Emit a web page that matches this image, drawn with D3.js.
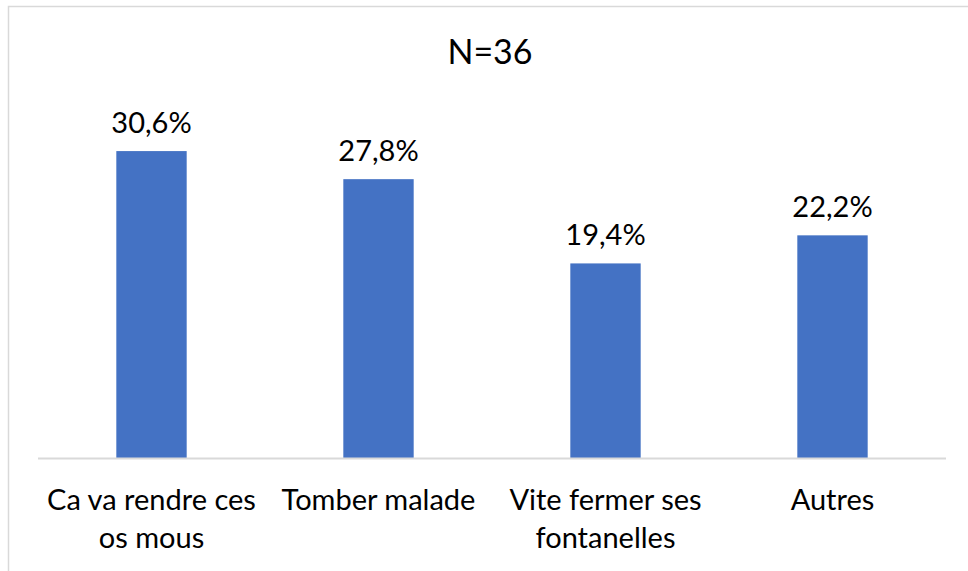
<!DOCTYPE html>
<meta charset="utf-8">
<html lang="fr">
<head>
    <script src="https://d3js.org/d3.v7.min.js"></script>
    <style>
        body { margin: 0; background: #fff; }
        text { font-family: Lato, "Open Sans", sans-serif; fill: #000; }
    </style>
</head>
<body>
    <svg width="968" height="571"></svg>
    <script>
        // data
        var categories = [["Ca va rendre ces", "os mous"], ["Tomber malade"], ["Vite fermer ses", "fontanelles"], ["Autres"]];
        var values = [30.6, 27.8, 19.4, 22.2];
        var valueLabels = ["30,6%", "27,8%", "19,4%", "22,2%"];
        var title = "N=36";

        var svg = d3.select("svg");

        // chart frame
        svg.append("rect")
            .attr("x", 8.5).attr("y", 6.5)
            .attr("width", 975).attr("height", 590)
            .attr("fill", "none")
            .attr("stroke", "#d9d9d9")
            .attr("stroke-width", 1.5);

        var left = 38, right = 946, base = 458;

        var x = d3.scaleBand()
            .domain(d3.range(values.length))
            .range([left, right])
            .paddingInner(0.69)
            .paddingOuter(0.345);

        var y = d3.scaleLinear()
            .domain([0, 35])
            .range([base, base - 35 * 10.03]);

        // title
        svg.append("text")
            .attr("x", 490).attr("y", 64)
            .attr("text-anchor", "middle")
            .style("font-size", "34px")
            .text(title);

        // bars
        svg.selectAll(".bar")
            .data(values)
            .enter().append("rect")
            .attr("class", "bar")
            .attr("x", function(d, i) { return x(i); })
            .attr("y", function(d) { return y(d); })
            .attr("width", x.bandwidth())
            .attr("height", function(d) { return base - y(d); })
            .attr("fill", "#4472c4");

        // value labels
        svg.selectAll(".val")
            .data(values)
            .enter().append("text")
            .attr("class", "val")
            .attr("x", function(d, i) { return x(i) + x.bandwidth() / 2; })
            .attr("y", function(d) { return y(d) - 18; })
            .attr("text-anchor", "middle")
            .style("font-size", "29px")
            .text(function(d, i) { return valueLabels[i]; });

        // axis line
        svg.append("line")
            .attr("x1", left).attr("x2", right)
            .attr("y1", base + 0.5).attr("y2", base + 0.5)
            .attr("stroke", "#d9d9d9")
            .attr("stroke-width", 2);

        // category labels
        svg.selectAll(".cat")
            .data(categories)
            .enter().append("text")
            .attr("class", "cat")
            .attr("text-anchor", "middle")
            .style("font-size", "29px")
            .each(function(lines, i) {
                var t = d3.select(this);
                lines.forEach(function(l, j) {
                    t.append("tspan")
                        .attr("x", x(i) + x.bandwidth() / 2)
                        .attr("y", 510 + j * 38)
                        .text(l);
                });
            });
    </script>
</body>
</html>
